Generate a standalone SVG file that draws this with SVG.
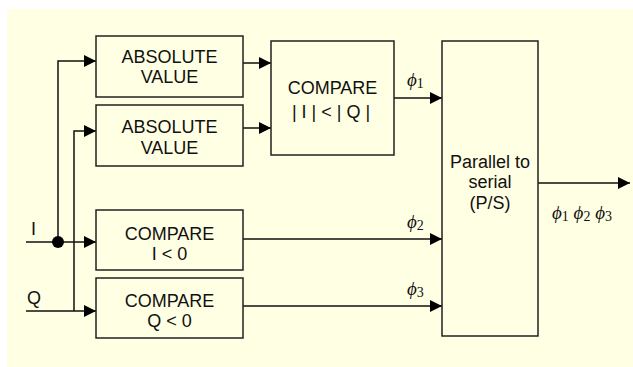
<svg xmlns="http://www.w3.org/2000/svg" width="633" height="367" viewBox="0 0 633 367">
<defs>
<marker id="arr" markerWidth="12" markerHeight="12" refX="12" refY="6" orient="auto" markerUnits="userSpaceOnUse">
<path d="M0,0 L12,6 L0,12 Z" fill="#000"/>
</marker>
<style>
.box{fill:none;stroke:#222;stroke-width:1.5}
.t{font-family:"Liberation Sans",Arial,sans-serif;font-size:18px;fill:#111;text-anchor:middle}
.l{font-family:"Liberation Sans",Arial,sans-serif;font-size:18px;fill:#111}
.ph{font-family:"Liberation Serif","Times New Roman",serif;font-size:19px;font-style:italic;fill:#111}
.sub{font-style:normal;font-size:14px}
.w{fill:none;stroke:#111;stroke-width:1.5}
.a{fill:none;stroke:#111;stroke-width:1.5;marker-end:url(#arr)}
</style>
</defs>
<rect x="7" y="9" width="626" height="358" fill="#FFFFE3"/>
<g id="connectors">
<path class="a" d="M26,242 H96"/>
<path class="a" d="M58,242 V61 H96"/>
<path class="a" d="M26,311 H96"/>
<path class="a" d="M74,311 V131 H96"/>
<circle cx="58" cy="242" r="6" fill="#000"/>
<path class="a" d="M243,63 H271"/>
<path class="a" d="M243,128 H271"/>
<path class="a" d="M394,98 H442"/>
<path class="a" d="M243,239 H442"/>
<path class="a" d="M243,306 H442"/>
<path class="a" d="M538,183 H630"/>
</g>
<g id="labels">
<text class="l" x="31" y="235">I</text>
<text class="l" x="27" y="304">Q</text>
<text class="ph" x="407" y="86">ϕ<tspan class="sub" dy="2">1</tspan></text>
<text class="ph" x="407" y="228">ϕ<tspan class="sub" dy="2">2</tspan></text>
<text class="ph" x="407" y="295">ϕ<tspan class="sub" dy="2">3</tspan></text>
<text class="ph" x="552" y="219">ϕ<tspan class="sub" dy="2">1</tspan><tspan dy="-2"> ϕ</tspan><tspan class="sub" dy="2">2</tspan><tspan dy="-2"> ϕ</tspan><tspan class="sub" dy="2">3</tspan></text>
</g>
<g id="abs1">
<rect class="box" x="96" y="36" width="147" height="61"/>
<text class="t" x="169.5" y="63">ABSOLUTE</text>
<text class="t" x="169.5" y="83">VALUE</text>
</g>
<g id="abs2">
<rect class="box" x="96" y="105" width="147" height="61"/>
<text class="t" x="169.5" y="133">ABSOLUTE</text>
<text class="t" x="169.5" y="154">VALUE</text>
</g>
<g id="cmpIQ">
<rect class="box" x="271" y="41" width="123" height="114"/>
<text class="t" x="332.5" y="94">COMPARE</text>
<text class="t" x="331" y="118">| I | &lt; | Q |</text>
</g>
<g id="cmpI">
<rect class="box" x="96" y="210" width="147" height="60"/>
<text class="t" x="169.5" y="240">COMPARE</text>
<text class="t" x="169.5" y="260">I &lt; 0</text>
</g>
<g id="cmpQ">
<rect class="box" x="96" y="278" width="147" height="60"/>
<text class="t" x="169.5" y="307">COMPARE</text>
<text class="t" x="169.5" y="327">Q &lt; 0</text>
</g>
<g id="ps">
<rect class="box" x="442" y="41" width="96" height="295"/>
<text class="t" x="490" y="168">Parallel to</text>
<text class="t" x="490" y="188">serial</text>
<text class="t" x="490" y="209">(P/S)</text>
</g>
</svg>
